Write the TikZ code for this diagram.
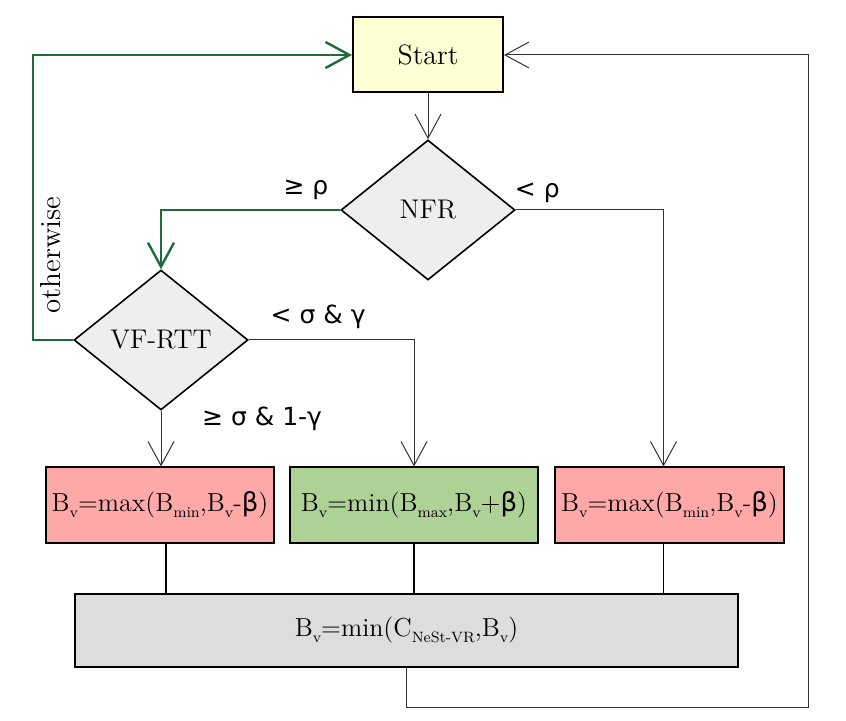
\documentclass[tikz,border=0pt]{standalone}
\usepackage{fontspec}
\newfontfamily\condfont{DejaVu Sans}
\usetikzlibrary{shapes.geometric, arrows.meta, positioning}

\definecolor{startyellow}{HTML}{FFFFD6}
\definecolor{decgray}{HTML}{EEEEEE}
\definecolor{decred}{HTML}{FFA8A8}
\definecolor{incgreen}{HTML}{AED196}
\definecolor{capgray}{HTML}{DDDDDD}
\definecolor{loopgreen}{HTML}{1F6B3A}

% low, small subscript as in the boxes
\newcommand{\lowsub}[1]{\raisebox{-0.5ex}{\fontsize{7.5}{9}\selectfont #1}}

\begin{document}
\begin{tikzpicture}[x=0.5pt, y=-0.5pt, >={Straight Barb[length=12pt,width=13pt]},
  font=\fontsize{13.5}{16}\selectfont]
  \tikzset{
    box/.style={draw, line width=1pt, minimum height=37.5pt, inner sep=0pt,
      font=\fontsize{13}{16}\selectfont},
    decision/.style={draw, diamond, fill=decgray, line width=0.8pt,
      minimum width=87pt, minimum height=70pt, inner sep=0pt},
    flow/.style={->, black!80, line width=0.5pt},
    link/.style={black, line width=0.8pt},
    loop/.style={->, loopgreen, line width=1.2pt},
    cond/.style={text=black, font=\condfont\fontsize{12.5}{15}\selectfont}
  }
  \useasboundingbox (0,0) rectangle (846,721);

  \node[box, fill=startyellow, minimum width=75pt, font=\fontsize{14}{16}\selectfont] (start) at (428,55) {Start};
  \node[decision] (nfr) at (428,210) {NFR};
  \node[decision] (vfrtt) at (161,340) {VF-RTT};

  \node[box, fill=decred, minimum width=114pt] (dec1) at (160,505)
    {B\lowsub{v}=max(B\lowsub{min},B\lowsub{v}-{\condfont β})};
  \node[box, fill=incgreen, minimum width=124pt] (inc) at (414,505)
    {B\lowsub{v}=min(B\lowsub{max},B\lowsub{v}+{\condfont β})};
  \node[box, fill=decred, minimum width=114.5pt] (dec2) at (669.5,505)
    {B\lowsub{v}=max(B\lowsub{min},B\lowsub{v}-{\condfont β})};
  \node[box, fill=capgray, minimum width=331.5pt, minimum height=36.5pt] (cap) at (406.5,630.5)
    {B\lowsub{v}=min(C\lowsub{NeSt-VR},B\lowsub{v})};

  \coordinate (lefttrack) at (33,0);
  \coordinate (righttrack) at (808,707);

  \draw[flow] (start) -- (nfr);
  \draw[loop] (nfr.west) -| (vfrtt.north) node[cond, pos=0, above left=1pt and 2pt] {≥ ρ};
  \draw[flow] (nfr.east) -| ([xshift=-3pt]dec2.north) node[cond, pos=0, above right=0pt and -4pt] {< ρ};
  \draw[flow] (vfrtt.east) -| (inc.north) node[cond, pos=0.21, above=2pt] {< σ \& γ};
  \draw[flow] (vfrtt.south) -- (vfrtt.south |- dec1.north) node[cond, pos=0.15, right=17pt] {≥ σ \& 1-γ};
  \draw[loop] (vfrtt.west) -- (vfrtt.west -| lefttrack) |- (start.west)
    node[pos=0.165, rotate=90, below=4.5pt, text=black, font=\fontsize{14.5}{17}\selectfont] {otherwise};

  \draw[link] ([xshift=3pt]dec1.south) -- ([xshift=3pt]dec1.south |- cap.north);
  \draw[link] (inc.south) -- (inc.south |- cap.north);
  \draw[link] ([xshift=-3pt]dec2.south) -- ([xshift=-3pt]dec2.south |- cap.north);
  \draw[flow] (cap.south) |- (righttrack) |- (start.east);
\end{tikzpicture}
\end{document}
